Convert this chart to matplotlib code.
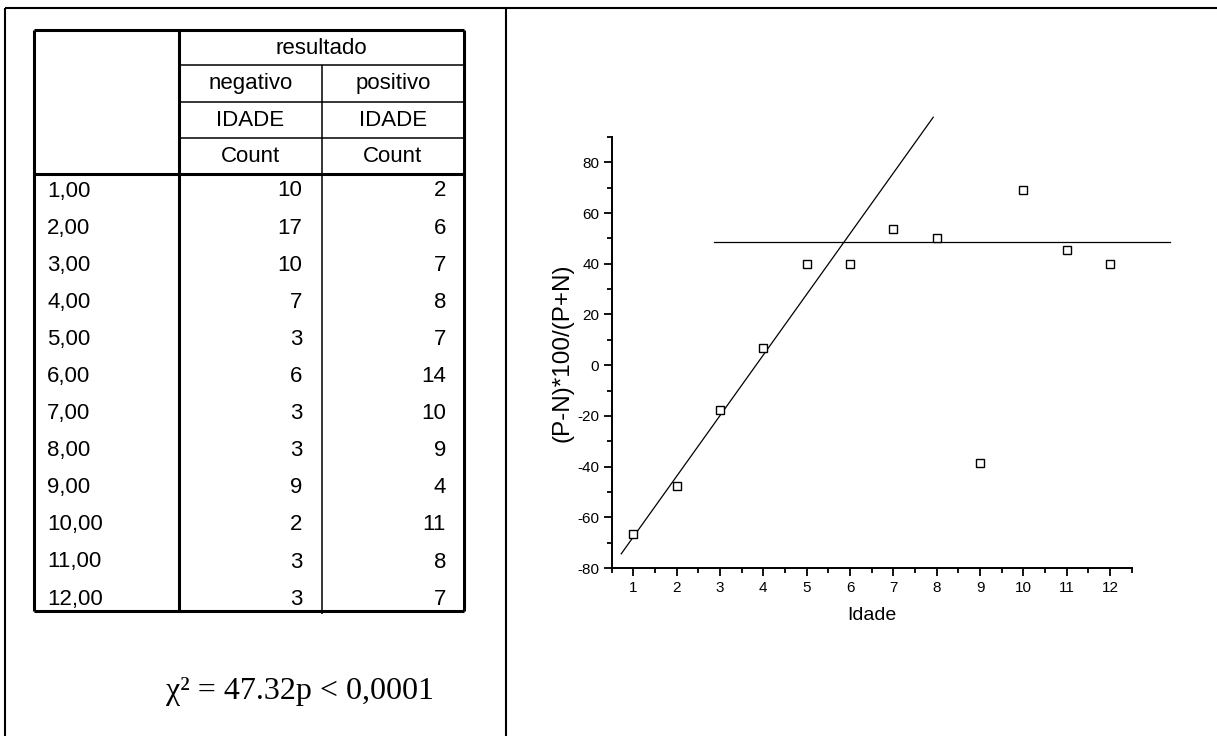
import matplotlib.pyplot as plt
import numpy as np

plt.rcParams['axes.unicode_minus'] = False

# table data
ages = ['1,00', '2,00', '3,00', '4,00', '5,00', '6,00',
        '7,00', '8,00', '9,00', '10,00', '11,00', '12,00']
negativo = [10, 17, 10, 7, 3, 6, 3, 3, 9, 2, 3, 3]
positivo = [2, 6, 7, 8, 7, 14, 10, 9, 4, 11, 8, 7]

# scatter data: (P-N)*100/(P+N) per age
idade = [1, 2, 3, 4, 5, 6, 7, 8, 9, 10, 11, 12]
pct = [-66.7, -47.8, -17.6, 6.7, 40.0, 40.0, 53.8, 50.0, -38.5, 69.2, 45.5, 40.0]

# fitted lines
fit_x = [0.72, 7.92]
fit_y = [-74.4, 97.8]
plateau_x = [2.86, 13.38]
plateau_y = [48.4, 48.4]

W, H = 1217, 736
fig = plt.figure(figsize=(W / 100, H / 100), dpi=100)

# background layer in pixel coords for frame + table
bg = fig.add_axes([0, 0, 1, 1])
bg.set_xlim(0, W)
bg.set_ylim(H, 0)
bg.axis('off')

def hline(y, x0, x1, lw):
    bg.plot([x0, x1], [y, y], color='k', lw=lw, solid_capstyle='butt')

def vline(x, y0, y1, lw):
    bg.plot([x, x], [y0, y1], color='k', lw=lw, solid_capstyle='butt')

# outer frame
hline(8, 5, W, 1.5)
vline(5, 8, H, 1.5)
vline(506, 8, H, 1.5)

# table grid
tl, tc, tm, tr = 34, 179, 322, 464
ttop, thead, tbot = 30, 174, 611
hline(ttop, tl, tr, 2.2)
hline(thead, tl, tr, 2.2)
hline(tbot, tl, tr, 2.2)
vline(tl, ttop, tbot, 2.2)
vline(tr, ttop, tbot, 2.2)
vline(tc, ttop, tbot, 2.2)
for y in (65, 102, 138):
    hline(y, tc - 1, tr, 1.1)
vline(tm, 65, tbot + 3, 1.1)

fnt = dict(family='Liberation Sans', fontsize=16, color='k')
bg.text((tc + tr) / 2, 48, 'resultado', ha='center', va='center', **fnt)
for x, lab in (((tc + tm) / 2, 'negativo'), ((tm + tr) / 2, 'positivo')):
    bg.text(x, 84, lab, ha='center', va='center', **fnt)
    bg.text(x, 120, 'IDADE', ha='center', va='center', **fnt)
    bg.text(x, 157, 'Count', ha='center', va='center', **fnt)

row_step = 37.1
for i, (a, n, p) in enumerate(zip(ages, negativo, positivo)):
    yc = 191 + row_step * i
    bg.text(47, yc, a, ha='left', va='center', **fnt)
    bg.text(302, yc, str(n), ha='right', va='center', **fnt)
    bg.text(446, yc, str(p), ha='right', va='center', **fnt)

bg.text(300, 692, 'χ² = 47.32p < 0,0001', ha='center', va='center',
        family='Liberation Serif', fontsize=23, color='k')

# scatter chart
ax = fig.add_axes([611.7 / W, 1 - 568 / H, 520 / W, 431 / H])
ax.plot(idade, pct, linestyle='none', marker='s', markersize=6.3,
        markerfacecolor='white', markeredgecolor='k', markeredgewidth=1.0,
        zorder=3, clip_on=False)
ax.plot(fit_x, fit_y, color='k', lw=0.9, clip_on=False)
ax.plot(plateau_x, plateau_y, color='k', lw=0.9, clip_on=False)

ax.set_xlim(0.5, 12.5)
ax.set_ylim(-80, 90)
ax.set_xticks(idade)
ax.set_xticks(np.arange(0.5, 12.6, 0.5), minor=True)
ax.set_yticks(np.arange(-80, 81, 20))
ax.set_yticks(np.arange(-80, 91, 10), minor=True)
for s in ('top', 'right'):
    ax.spines[s].set_visible(False)
for s in ('left', 'bottom'):
    ax.spines[s].set_linewidth(1.4)
ax.tick_params(which='major', length=6, width=1.3, labelsize=11, pad=3)
ax.tick_params(which='minor', length=3.5, width=1.3)
for lab in ax.get_xticklabels() + ax.get_yticklabels():
    lab.set_family('Liberation Sans')
ax.set_xlabel('Idade', family='Liberation Sans', fontsize=14, labelpad=9)
ax.set_ylabel('(P-N)*100/(P+N)', family='Liberation Sans', fontsize=17.5, labelpad=3)

fig.savefig('out.png', dpi=100)
